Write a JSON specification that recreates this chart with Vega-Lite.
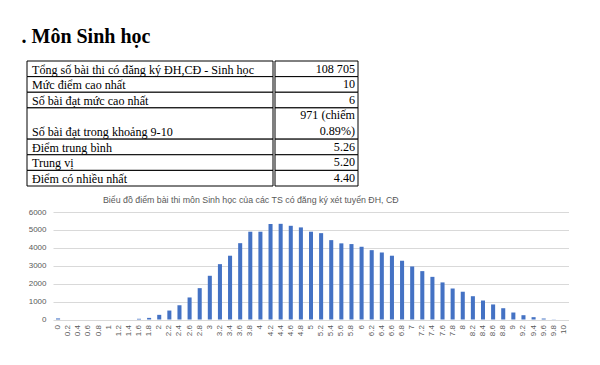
{
  "$schema": "https://vega.github.io/schema/vega-lite/v6.json",
  "background": "white",
  "padding": {"left": 21, "top": 26, "right": 0, "bottom": 0},
  "autosize": {"type": "pad"},
  "title": {"text": ". Môn Sinh học", "anchor": "start", "dx": -5, "font": "Liberation Serif", "fontSize": 20, "fontWeight": "bold", "color": "black", "offset": 14},
  "datasets": {
    "bang": [
      {"from": 0, "to": 1, "label": "Tổng số bài thi có đăng ký ĐH,CĐ - Sinh học", "value": "108 705"},
      {"from": 1, "to": 2, "label": "Mức điểm cao nhất", "value": "10"},
      {"from": 2, "to": 3, "label": "Số bài đạt mức cao nhất", "value": "6"},
      {"from": 3, "to": 5, "label": "Số bài đạt trong khoảng 9-10", "value": "971 (chiếm\n0.89%)"},
      {"from": 5, "to": 6, "label": "Điểm trung bình", "value": "5.26"},
      {"from": 6, "to": 7, "label": "Trung vị", "value": "5.20"},
      {"from": 7, "to": 8, "label": "Điểm có nhiều nhất", "value": "4.40"}
    ],
    "diem": [
      {"diem": "0", "so": 60}, {"diem": "0.2", "so": 0}, {"diem": "0.4", "so": 0}, {"diem": "0.6", "so": 0},
      {"diem": "0.8", "so": 0}, {"diem": "1", "so": 0}, {"diem": "1.2", "so": 0}, {"diem": "1.4", "so": 0},
      {"diem": "1.6", "so": 40}, {"diem": "1.8", "so": 90}, {"diem": "2", "so": 260}, {"diem": "2.2", "so": 500},
      {"diem": "2.4", "so": 800}, {"diem": "2.6", "so": 1230}, {"diem": "2.8", "so": 1750}, {"diem": "3", "so": 2440},
      {"diem": "3.2", "so": 3090}, {"diem": "3.4", "so": 3560}, {"diem": "3.6", "so": 4260}, {"diem": "3.8", "so": 4900},
      {"diem": "4", "so": 4900}, {"diem": "4.2", "so": 5330}, {"diem": "4.4", "so": 5340}, {"diem": "4.6", "so": 5230},
      {"diem": "4.8", "so": 5140}, {"diem": "5", "so": 4900}, {"diem": "5.2", "so": 4820}, {"diem": "5.4", "so": 4430},
      {"diem": "5.6", "so": 4250}, {"diem": "5.8", "so": 4210}, {"diem": "6", "so": 4060}, {"diem": "6.2", "so": 3870},
      {"diem": "6.4", "so": 3740}, {"diem": "6.6", "so": 3560}, {"diem": "6.8", "so": 3280}, {"diem": "7", "so": 2960},
      {"diem": "7.2", "so": 2700}, {"diem": "7.4", "so": 2380}, {"diem": "7.6", "so": 2070}, {"diem": "7.8", "so": 1730},
      {"diem": "8", "so": 1550}, {"diem": "8.2", "so": 1300}, {"diem": "8.4", "so": 1060}, {"diem": "8.6", "so": 840},
      {"diem": "8.8", "so": 630}, {"diem": "9", "so": 390}, {"diem": "9.2", "so": 240}, {"diem": "9.4", "so": 130},
      {"diem": "9.6", "so": 55}, {"diem": "9.8", "so": 10}, {"diem": "10", "so": 6}
    ]
  },
  "config": {
    "view": {"stroke": null},
    "axis": {"labelFont": "Liberation Sans"}
  },
  "spacing": 9,
  "vconcat": [
    {
      "hconcat": [
        {
          "width": 246,
          "height": 125,
          "data": {"name": "bang"},
          "layer": [
            {
              "mark": {"type": "rect", "fill": "white", "stroke": "black", "strokeWidth": 1},
              "encoding": {
                "y": {"field": "from", "type": "quantitative", "scale": {"domain": [0, 8], "reverse": true, "nice": false}, "axis": null},
                "y2": {"field": "to"}
              }
            },
            {
              "mark": {"type": "text", "align": "left", "baseline": "bottom", "font": "Liberation Serif", "fontSize": 12.1, "dx": 5, "dy": 0, "color": "black"},
              "encoding": {
                "x": {"datum": 0, "type": "quantitative", "scale": {"domain": [0, 1]}, "axis": null},
                "y": {"field": "to", "type": "quantitative", "scale": {"domain": [0, 8], "reverse": true, "nice": false}, "axis": null},
                "text": {"field": "label"}
              }
            }
          ]
        },
        {
          "width": 83,
          "height": 125,
          "data": {"name": "bang"},
          "layer": [
            {
              "mark": {"type": "rect", "fill": "white", "stroke": "black", "strokeWidth": 1},
              "encoding": {
                "y": {"field": "from", "type": "quantitative", "scale": {"domain": [0, 8], "reverse": true, "nice": false}, "axis": null},
                "y2": {"field": "to"}
              }
            },
            {
              "mark": {"type": "text", "align": "right", "baseline": "top", "font": "Liberation Serif", "fontSize": 12.1, "dx": -3, "dy": 1.5, "lineBreak": "\n", "lineHeight": 15.3, "color": "black"},
              "encoding": {
                "x": {"datum": 1, "type": "quantitative", "scale": {"domain": [0, 1]}, "axis": null},
                "y": {"field": "from", "type": "quantitative", "scale": {"domain": [0, 8], "reverse": true, "nice": false}, "axis": null},
                "text": {"field": "value"}
              }
            }
          ]
        }
      ],
      "spacing": 0
    },
    {
      "spacing": 0,
      "hconcat": [
        {
          "width": 1,
          "height": 1,
          "data": {"values": []},
          "mark": {"type": "rule", "opacity": 0},
          "encoding": {}
        },
        {
          "width": 516,
          "height": 107.5,
          "title": {"text": "Biểu đồ điểm bài thi môn Sinh học của các TS có đăng ký xét tuyển ĐH, CĐ", "anchor": "start", "frame": "group", "dx": 50, "font": "Liberation Sans", "fontSize": 8.8, "fontWeight": "normal", "color": "#595959", "offset": 3},
          "data": {"name": "diem"},
          "mark": {"type": "bar", "color": "#4472C4"},
          "encoding": {
            "x": {
              "field": "diem", "type": "ordinal", "sort": null,
              "scale": {"paddingInner": 0.6, "paddingOuter": 0.3},
              "axis": {"title": null, "labelAngle": -90, "labelFontSize": 8, "labelColor": "#595959", "labelPadding": 5, "domain": false, "ticks": false}
            },
            "y": {
              "field": "so", "type": "quantitative",
              "scale": {"domain": [0, 6000], "nice": false},
              "axis": {"title": null, "values": [0, 1000, 2000, 3000, 4000, 5000, 6000], "format": "d", "labelFontSize": 8, "labelColor": "#595959", "domain": false, "ticks": false, "labelPadding": 7, "gridColor": "#d9d9d9"}
            }
          }
        }
      ]
    }
  ]
}
